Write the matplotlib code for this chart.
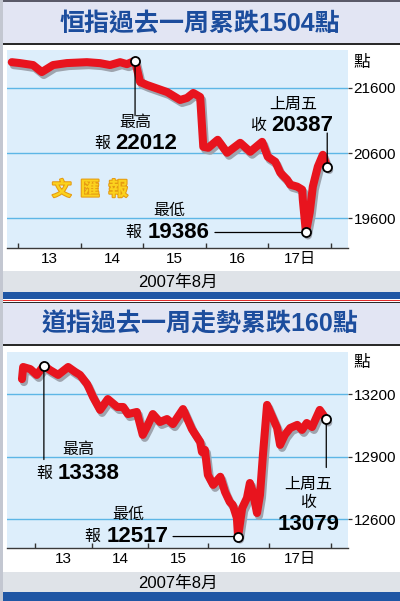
import matplotlib
matplotlib.use('Agg')
import matplotlib.pyplot as plt
from matplotlib import font_manager
from matplotlib.patches import Rectangle
from matplotlib.transforms import offset_copy
import matplotlib.patheffects as pe

# ---- data (x = position in the trading week, 1 unit = one session) ----
hsi_t = [-0.10, 0.03, 0.24, 0.38, 0.56, 0.78, 1.10, 1.31, 1.47, 1.63, 1.74, 1.87,
         1.95, 2.06, 2.38, 2.59, 2.70, 2.80, 2.91, 2.96, 3.04, 3.19, 3.34, 3.55,
         3.71, 3.90, 3.99, 4.11, 4.19, 4.30, 4.35, 4.46, 4.54, 4.55, 4.60, 4.66,
         4.71, 4.79, 4.87, 4.94]
hsi_v = [21990, 21976, 21946, 21839, 21946, 21976, 21990, 21975, 21946, 21990, 21960, 22012,
         21687, 21641, 21534, 21412, 21443, 21519, 21458, 20696, 20681, 20803, 20605, 20757,
         20620, 20772, 20544, 20468, 20300, 20193, 20117, 20087, 20041, 19889, 19386, 19690,
         20087, 20392, 20574, 20387]
hsi_edges = [0, 1, 2, 3, 4, 5]
hsi_yticks = [19600, 20600, 21600]

dji_t = [-0.22, -0.20, -0.08, 0.03, 0.15, 0.25, 0.39, 0.56, 0.68, 0.76, 0.88, 0.98,
         1.10, 1.23, 1.39, 1.49, 1.57, 1.72, 1.82, 1.89, 1.99, 2.11, 2.23, 2.33,
         2.50, 2.65, 2.79, 2.82, 2.87, 2.92, 3.01, 3.13, 3.21, 3.29, 3.34, 3.41,
         3.43, 3.50, 3.58, 3.63, 3.68, 3.75, 3.80, 3.85, 3.92, 4.09, 4.14, 4.22,
         4.31, 4.43, 4.51, 4.59, 4.68, 4.81, 4.92]
dji_v = [13273, 13331, 13321, 13293, 13338, 13317, 13293, 13331, 13307, 13293, 13249, 13187,
         13125, 13177, 13139, 13139, 13105, 13115, 13005, 13043, 13105, 13067, 13081, 13057,
         13129, 13033, 12971, 12923, 12933, 12813, 12765, 12804, 12731, 12683, 12669, 12606,
         12517, 12654, 12702, 12774, 12731, 12630, 12717, 12909, 13149, 13038, 12957, 13005,
         13038, 13053, 13029, 13062, 13043, 13125, 13079]
dji_edges = [0, 0.96, 1.91, 2.92, 3.95, 5.0]
dji_yticks = [12600, 12900, 13200]

day_labels = ['13', '14', '15', '16', '17日']
month_label = '2007年8月'
hsi_title = '恒指過去一周累跌1504點'
dji_title = '道指過去一周走勢累跌160點'

# ---- fonts ----
names = {f.name for f in font_manager.fontManager.ttflist}
NUM_FONT = 'Liberation Sans Narrow' if 'Liberation Sans Narrow' in names else 'Liberation Sans'
NUM_SIZE = 13 if NUM_FONT == 'Liberation Sans Narrow' else 11
CJK = 'Noto Sans CJK TC'
plt.rcParams['font.family'] = [NUM_FONT, CJK]

RED = '#e8141e'
SHADOW = '#9ea4ae'
W, H = 400, 601

fig = plt.figure(figsize=(W / 100, H / 100), dpi=100)
bg = fig.add_axes([0, 0, 1, 1], zorder=-1)
bg.set_xlim(0, W)
bg.set_ylim(H, 0)
bg.axis('off')


def box(x0, y0, x1, y1, color):
    bg.add_patch(Rectangle((x0, y0), x1 - x0, y1 - y0, facecolor=color, edgecolor='none'))


box(0, 0, W, H, '#ffffff')
# top panel frame
box(0, 0, W, 2, '#5a5a68')
box(0, 2, W, 43, '#e2e5f3')
box(0, 43, W, 44.5, '#2a2a2a')
box(0, 271, W, 292, '#dfe3e8')
box(0, 292, W, 299, '#1f56a4')
box(0, 299.6, W, 300.6, '#e32b2b')
box(0, 301.5, W, 302.7, '#2a2a2a')
# bottom panel frame
box(0, 302.7, W, 344, '#e2e5f3')
box(0, 344, W, 345.5, '#2a2a2a')
box(0, 572, W, 592, '#dfe3e8')
box(0, 592, W, H, '#1f56a4')
box(0, 0, 2.5, H, '#c3c7d1')


def ftext(x, y, s, **kw):
    fig.text(x, y, s, transform=bg.transData, ha='center', va='center', **kw)


ftext(200, 24, hsi_title, fontsize=18, fontweight='bold', color='#1c4d9d',
      family=['Liberation Sans', CJK])
ftext(200, 325, dji_title, fontsize=18, fontweight='bold', color='#1c4d9d',
      family=['Liberation Sans', CJK])
ftext(178, 282, month_label, fontsize=NUM_SIZE + 1)
ftext(178, 583, month_label, fontsize=NUM_SIZE + 1)
ftext(362, 62, '點', fontsize=12, family=CJK)
ftext(362, 362, '點', fontsize=12, family=CJK)
ftext(90, 190, '文  匯  報', fontsize=14, fontweight='bold', color='#fbd21e', family=CJK,
      path_effects=[pe.withStroke(linewidth=1.5, foreground='#e59a12')])


def px_axes(x0, y0, x1, y1):
    return fig.add_axes([x0 / W, 1 - y1 / H, (x1 - x0) / W, (y1 - y0) / H])


def draw_panel(ax, t, v, edges, yticks, xlim, ylim):
    ax.set_facecolor('#ddeefb')
    ax.set_xlim(*xlim)
    ax.set_ylim(*ylim)
    for s in ['top', 'left', 'right']:
        ax.spines[s].set_visible(False)
    ax.spines['bottom'].set_color('#3a3a3a')
    ax.spines['bottom'].set_linewidth(1)
    ax.set_axisbelow(True)
    ax.grid(axis='y', color='#5db6e6', lw=1)
    ax.yaxis.tick_right()
    ax.set_yticks(yticks)
    ax.tick_params(axis='y', direction='out', length=3, width=0.9, color='#333333',
                   pad=1, labelsize=NUM_SIZE)
    ax.set_xticks(edges)
    ax.tick_params(axis='x', which='major', direction='in', length=3.6, width=1,
                   color='#333333', labelbottom=False)
    mids = [(a + b) / 2 for a, b in zip(edges[:-1], edges[1:])]
    ax.set_xticks(mids, minor=True)
    ax.set_xticklabels(day_labels, minor=True)
    ax.tick_params(axis='x', which='minor', length=0, pad=3, labelsize=NUM_SIZE)

    shadow = offset_copy(ax.transData, fig=fig, x=2, y=-3, units='dots')
    ax.plot(t, v, color=SHADOW, lw=5.8, solid_joinstyle='round', solid_capstyle='round',
            transform=shadow, zorder=3)
    ax.plot(t, v, color=RED, lw=5.8, solid_joinstyle='round', solid_capstyle='round', zorder=4)

    hi = v.index(max(v))
    lo = v.index(min(v))
    pts = {'hi': (t[hi], v[hi]), 'lo': (t[lo], v[lo]), 'cl': (t[-1], v[-1])}
    for p in pts.values():
        ax.plot(*p, 'o', ms=6.5, mfc='white', mec='black', mew=1.3, zorder=6)
    return pts


def leader(ax, xy, dx, dy):
    ax.annotate('', xy=xy, xytext=(dx, dy), textcoords='offset pixels',
                arrowprops=dict(arrowstyle='-', color='black', lw=0.9, shrinkA=0, shrinkB=0),
                zorder=5)


def note(ax, xy, s, dx, dy, bold=False, ha='center'):
    if bold:
        kw = dict(fontsize=16, fontweight='bold', family='Liberation Sans')
    else:
        kw = dict(fontsize=11.5, family=CJK)
    ax.annotate(s, xy=xy, xytext=(dx, dy), textcoords='offset pixels',
                ha=ha, va='center', annotation_clip=False, **kw)


# ---- 恒指 ----
ax1 = px_axes(7, 50, 348, 248)
p = draw_panel(ax1, hsi_t, hsi_v, hsi_edges, hsi_yticks, (-0.176, 5.272), (19149, 22176))
leader(ax1, p['hi'], 0, -55)
note(ax1, p['hi'], '最高', 0, -62)
note(ax1, p['hi'], '報', -33, -83)
note(ax1, p['hi'], f'{max(hsi_v)}', -20, -83, bold=True, ha='left')
leader(ax1, p['cl'], 0, 34)
note(ax1, p['cl'], '上周五', -34, 63)
note(ax1, p['cl'], '收', -69, 42)
note(ax1, p['cl'], f'{hsi_v[-1]}', -56, 42, bold=True, ha='left')
leader(ax1, p['lo'], -91, 0)
note(ax1, p['lo'], '最低', -137, 22)
note(ax1, p['lo'], '報', -173, 0)
note(ax1, p['lo'], f'{min(hsi_v)}', -158, 0, bold=True, ha='left')

# ---- 道指 ----
ax2 = px_axes(7, 352, 348, 548)
p = draw_panel(ax2, dji_t, dji_v, dji_edges, dji_yticks, (-0.473, 5.287), (12462, 13403))
leader(ax2, p['hi'], 0, -94)
note(ax2, p['hi'], '最高', 34, -84)
note(ax2, p['hi'], '報', 0, -108)
note(ax2, p['hi'], f'{max(dji_v)}', 14, -108, bold=True, ha='left')
leader(ax2, p['lo'], -65, 0)
note(ax2, p['lo'], '最低', -110, 22)
note(ax2, p['lo'], '報', -146, 0)
note(ax2, p['lo'], f'{min(dji_v)}', -131, 0, bold=True, ha='left')
leader(ax2, p['cl'], 0, -48)
note(ax2, p['cl'], '上周五', -18, -65)
note(ax2, p['cl'], '收', -18, -83)
note(ax2, p['cl'], f'{dji_v[-1]}', -18, -105, bold=True)

fig.savefig('out.png', dpi=100)
